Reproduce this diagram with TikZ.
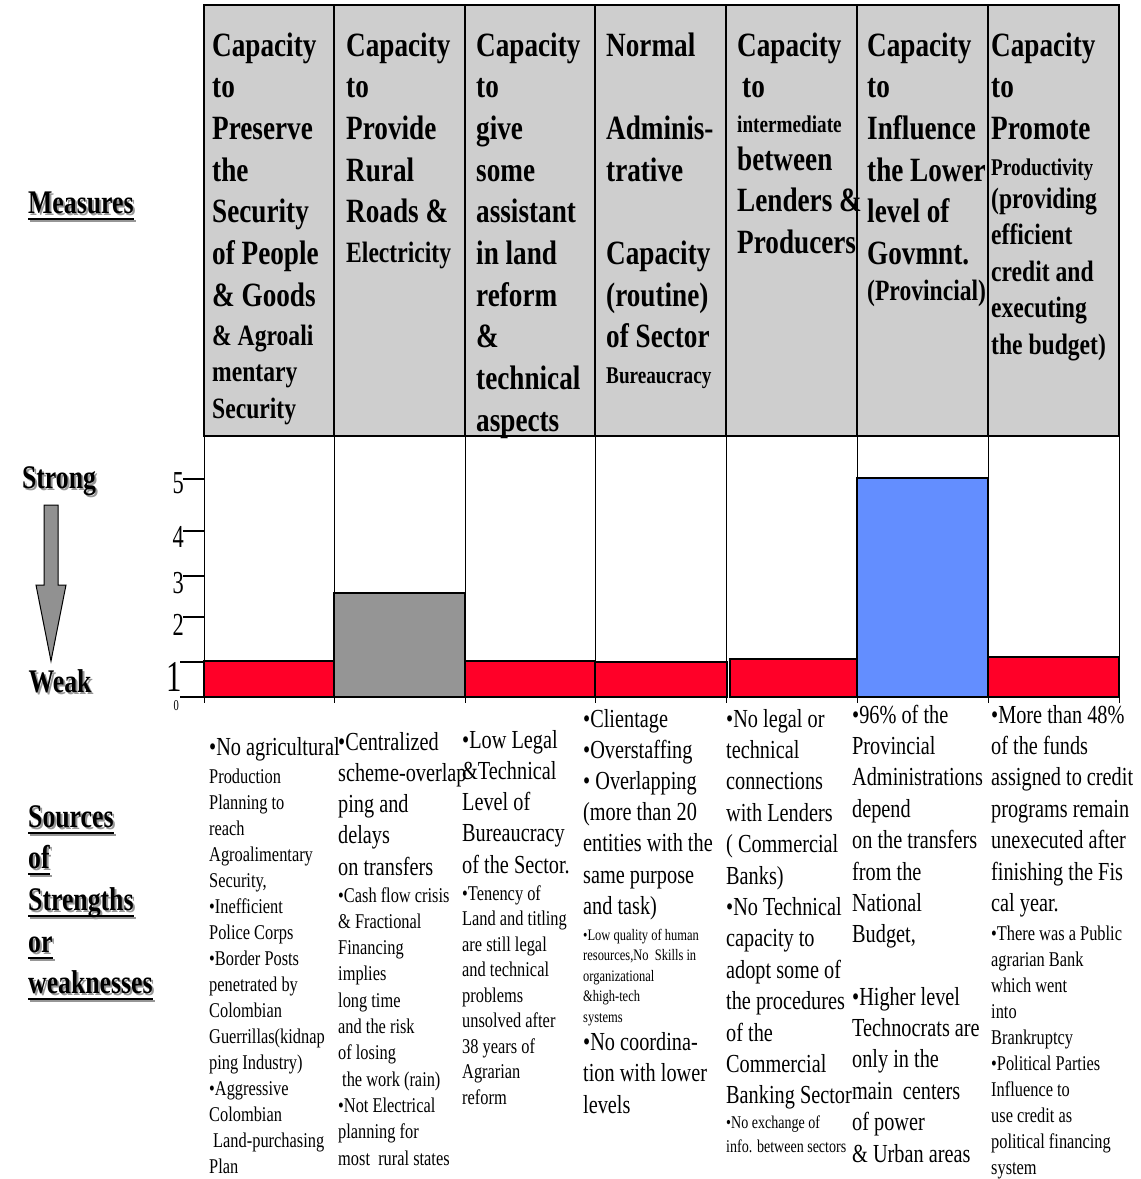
\documentclass[tikz,border=0pt]{standalone}
\usepackage{fontspec}
\setmainfont{Liberation Serif}
\newfontfamily\hfont{Liberation Serif}[FakeStretch=0.80]
\newfontfamily\bodyfont{Liberation Serif}[FakeStretch=0.78]
\newfontfamily\axfont{Liberation Serif}[FakeStretch=0.70]
\definecolor{hdrgray}{RGB}{206,206,206}
\definecolor{barred}{RGB}{255,0,40}
\definecolor{barblue}{RGB}{99,142,255}
\definecolor{bargray}{RGB}{149,149,149}
\definecolor{arrowgray}{RGB}{145,145,145}
\definecolor{shadowgray}{RGB}{150,150,150}
\tikzset{
  hA/.style={font=\hfont\bfseries\fontsize{34}{34}\selectfont, anchor=base west, inner sep=0pt},
  hB/.style={font=\hfont\bfseries\fontsize{29.5}{29.5}\selectfont, anchor=base west, inner sep=0pt},
  hC/.style={font=\hfont\bfseries\fontsize{24}{24}\selectfont, anchor=base west, inner sep=0pt},
  bL/.style={font=\bodyfont\fontsize{26}{26}\selectfont, anchor=base west, inner sep=0pt},
  bS/.style={font=\bodyfont\fontsize{21}{21}\selectfont, anchor=base west, inner sep=0pt},
  bM/.style={font=\bodyfont\fontsize{18}{18}\selectfont, anchor=base west, inner sep=0pt},
  bT/.style={font=\bodyfont\fontsize{16}{16}\selectfont, anchor=base west, inner sep=0pt},
  lbl/.style={font=\bodyfont\bfseries\fontsize{33}{33}\selectfont, anchor=base west, inner sep=0pt},
  ax/.style={font=\axfont\fontsize{32}{32}\selectfont, anchor=base east, inner sep=0pt},
  border/.style={line width=2.5pt},
  hline/.style={line width=2pt},
  grid/.style={line width=1pt},
  bar/.style={line width=2.5pt, draw=black},
  tick/.style={line width=1.6pt}
}
\newcommand\textcol[6]{\foreach \txt [count=\i] in {#6} {\node[#5] (#1-\i) at (#2,{#3+(\i-1)*#4}) {\txt};}}
\newcommand\slabu[4]{%
  \node[lbl,text=shadowgray] (#1-sh) at (#2+2,#3+2) {#4};
  \draw[shadowgray,line width=2pt] ([yshift=-5.5pt]#1-sh.base west) -- ([yshift=-5.5pt]#1-sh.base east);
  \node[lbl] (#1) at (#2,#3) {#4};
  \draw[line width=2pt] ([yshift=-5.5pt]#1.base west) -- ([yshift=-5.5pt]#1.base east);}
\newcommand\slab[4]{%
  \node[lbl,anchor=base,text=shadowgray] (#1-sh) at (#2+2,#3+2) {#4};
  \node[lbl,anchor=base] (#1) at (#2,#3) {#4};}
\begin{document}
\begin{tikzpicture}[x=1pt,y=-1pt]
\useasboundingbox (0,0) rectangle (1141,1179);
\fill[white] (0,0) rectangle (1141,1179);

% header
\fill[hdrgray] (204,5) rectangle (1119,436);
\foreach \cx in {334,465,595,726,857,988} {\draw[hline] (\cx,5) -- (\cx,436);}
% chart grid
\foreach \cx in {204,334,465,595,726,857,988,1119} {\draw[grid] (\cx,436) -- (\cx,703);}
% bars
\filldraw[bar, fill=barred] (204,661) rectangle (334,697);
\filldraw[bar, fill=bargray] (334,593) rectangle (465,697);
\filldraw[bar, fill=barred] (465,661) rectangle (595,697);
\filldraw[bar, fill=barred] (595,662) rectangle (727,697);
\filldraw[bar, fill=barred] (730,659) rectangle (857,697);
\filldraw[bar, fill=barblue] (857,478) rectangle (988,697);
\filldraw[bar, fill=barred] (988,657) rectangle (1119,697);
\draw[border] (204,5) rectangle (1119,436);

% axis
\draw[tick] (183,479) -- (204,479);
\draw[tick] (183,531) -- (204,531);
\draw[tick] (183,576) -- (204,576);
\draw[tick] (183,617) -- (204,617);
\draw[tick] (180,662) -- (204,662);
\draw[tick] (180,697) -- (204,697);
\node[ax] (y5) at (184,493) {5};
\node[ax] (y4) at (184,547) {4};
\node[ax] (y3) at (184,593) {3};
\node[ax] (y2) at (184,635) {2};
\node[ax,font=\axfont\fontsize{44}{44}\selectfont] (y1) at (182,691) {1};
\node[ax,font=\axfont\fontsize{15}{15}\selectfont] (y0) at (179,710) {0};

% header texts
\textcol{h1a}{212}{56}{41.7}{hA}{Capacity,to,Preserve,the,Security,of People,\& Goods}
\textcol{h1b}{212}{345}{36.5}{hB}{\& Agroali,mentary,Security}
\textcol{h2a}{346}{56}{41.7}{hA}{Capacity,to,Provide,Rural,Roads \&}
\textcol{h2b}{346}{262}{0}{hB}{Electricity}
\textcol{h3a}{476}{56}{41.7}{hA}{Capacity,to,give,some,assistant,in land,reform,\&,technical,aspects}
\textcol{h4a}{606}{56}{0}{hA}{Normal}
\textcol{h4b}{606}{139.4}{41.7}{hA}{Adminis-,trative}
\textcol{h4c}{606}{264.5}{41.7}{hA}{Capacity,{(routine)},of Sector}
\textcol{h4d}{606}{383}{0}{hC}{Bureaucracy}
\textcol{h5a}{737}{56}{41.7}{hA}{Capacity,{\hspace{5pt}to}}
\textcol{h5b}{737}{132}{0}{hC}{intermediate}
\textcol{h5c}{737}{170}{41.7}{hA}{between,Lenders \&,Producers}
\textcol{h6a}{867}{56}{41.7}{hA}{Capacity,to,Influence,the Lower,level of,Govmnt.}
\textcol{h6b}{867}{300}{0}{hB}{{(Provincial)}}
\textcol{h7a}{991}{56}{41.7}{hA}{Capacity,to,Promote}
\textcol{h7b}{991}{175}{0}{hC}{Productivity}
\textcol{h7c}{991}{208}{36.5}{hB}{{(providing},efficient,credit and,executing,{the budget)}}

% body texts
\textcol{c1a}{209}{755}{0}{bL}{•No agricultural}
\textcol{c1b}{209}{783}{26}{bS}{Production,Planning to,reach,Agroalimentary,{Security,},•Inefficient,Police Corps,•Border Posts,penetrated by,Colombian,{Guerrillas(kidnap},{ping Industry)},•Aggressive,Colombian,{\hspace{4pt}Land-purchasing},Plan}
\textcol{c2a}{338}{750}{31.3}{bL}{•Centralized,scheme-overlap,ping and,delays,on transfers}
\textcol{c2b}{338}{902}{26.3}{bS}{•Cash flow crisis,\& Fractional,Financing,implies,long time,and the risk,of losing,{\hspace{4pt}the work (rain)},•Not Electrical,planning for,{most\ \ rural states}}
\textcol{c3a}{462}{748}{31.3}{bL}{•Low Legal,\&Technical,Level of,Bureaucracy,of the Sector.}
\textcol{c3b}{462}{900}{25.5}{bS}{•Tenency of,Land and titling,are still legal,and technical,problems,unsolved after,38 years of,Agrarian,reform}
\textcol{c4a}{583}{727}{31.2}{bL}{•Clientage,•Overstaffing,{•\ Overlapping},{(more than 20},entities with the,same purpose,{and task)}}
\textcol{c4b}{583}{940}{20.5}{bT}{•Low quality of human,{resources,No\ \ Skills in},organizational,\&high-tech,systems}
\textcol{c4c}{583}{1050}{31.5}{bL}{•No coordina-,tion with lower,levels}
\textcol{c5a}{726}{727}{31.4}{bL}{•No legal or,technical,connections,with Lenders,{(\ Commercial},{Banks)},•No Technical,capacity to,adopt some of,the procedures,of the,Commercial,Banking Sector}
\textcol{c5b}{726}{1128}{24}{bM}{•No exchange of,info. between sectors}
\textcol{c6a}{852}{723}{31.4}{bL}{•96\% of the,Provincial,Administrations,depend,on the transfers,from the,National,{Budget,}}
\textcol{c6b}{852}{1005}{31.4}{bL}{•Higher level,Technocrats are,only in the,{main\ \ centers},of power,\& Urban areas}
\textcol{c7a}{991}{723}{31.4}{bL}{•More than 48\%,of the funds,assigned to credit,programs remain,unexecuted after,finishing the Fis,cal year.}
\textcol{c7b}{991}{940}{26.1}{bS}{•There was a Public,agrarian Bank,which went,into,Brankruptcy,•Political Parties,Influence to,use credit as,political financing,system}

% left labels
\slabu{meas}{28}{213}{Measures}
\slab{strong}{59}{488}{Strong}
\slab{weak}{60}{692}{Weak}
\slabu{src1}{28}{827}{Sources}
\slabu{src2}{28}{868}{of}
\slabu{src3}{28}{910}{Strengths\ }
\slabu{src4}{28}{952}{or}
\slabu{src5}{28}{993}{weaknesses}

% arrow
\filldraw[fill=arrowgray, draw=black, line width=1pt]
  (44,505) -- (58,505) -- (58,585) -- (66,585) -- (51,661) -- (36,585) -- (44,585) -- cycle;
\end{tikzpicture}
\end{document}
